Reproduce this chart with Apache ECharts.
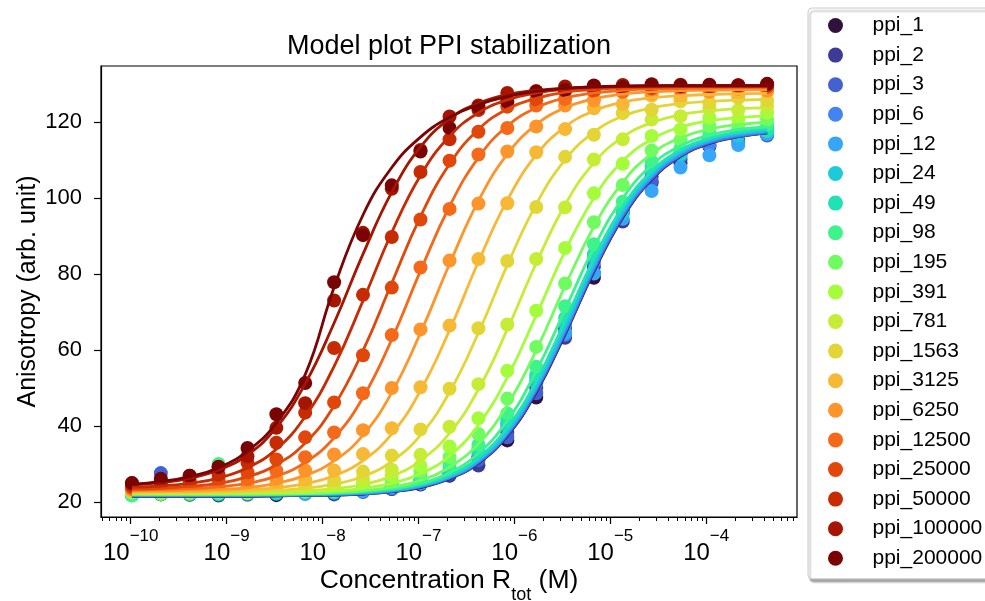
<!DOCTYPE html>
<html>
<head>
<meta charset="utf-8">
<script src="https://cdn.jsdelivr.net/npm/echarts@6/dist/echarts.min.js"></script>
<style>
  html, body { margin: 0; padding: 0; background: #fff; }
  #main { width: 985px; height: 601px; }
</style>
</head>
<body>
<div id="main"></div>
<script>
// concentrations (M), 2-fold dilution series
var conc = [1.03e-10, 2.06e-10, 4.12e-10, 8.24e-10, 1.65e-9, 3.30e-9, 6.59e-9, 1.32e-8, 2.64e-8, 5.27e-8, 1.05e-7, 2.11e-7,
  4.22e-7, 8.44e-7, 1.69e-6, 3.38e-6, 6.75e-6, 1.35e-5, 2.70e-5, 5.40e-5, 1.08e-4, 2.16e-4, 4.32e-4]

var names = ['ppi_1', 'ppi_2', 'ppi_3', 'ppi_6', 'ppi_12', 'ppi_24', 'ppi_49', 'ppi_98', 'ppi_195', 'ppi_391', 'ppi_781',
  'ppi_1563', 'ppi_3125', 'ppi_6250', 'ppi_12500', 'ppi_25000', 'ppi_50000', 'ppi_100000', 'ppi_200000']

var colors = ['#30123b', '#3e3a97', '#4461d2', '#4284f2', '#36a7f8', '#1ccbd8', '#21e2b5', '#3ff38c', '#70fc61', '#a4fc3b',
  '#c7ec35', '#e4d537', '#f7b836', '#fd952a', '#f4691a', '#e1460b', '#c72b04', '#a51501', '#7a0403']

// tick labels
var xMajor = [-10, -9, -8, -7, -6, -5, -4] // exponents of 10
var yTicks = [20, 40, 60, 80, 100, 120]

// measured points (anisotropy)
var pts_1 = [22.3, 22.0, 21.9, 22.6, 22.2, 21.8, 22.5, 22.9, 23.1, 23.4, 24.6, 27.0, 31.5, 36.2, 47.5, 65.8, 79.0, 96.1, 104.0, 109.2, 113.5, 116.8, 116.6]
var pts_2 = [21.8, 22.4, 22.2, 21.7, 22.9, 22.1, 22.3, 22.0, 23.0, 24.1, 25.2, 26.9, 29.6, 38.4, 50.1, 63.2, 81.9, 93.8, 105.6, 110.1, 115.2, 115.5, 117.9]
var pts_3 = [22.1, 27.6, 22.5, 22.3, 21.9, 22.7, 22.2, 23.0, 22.6, 23.5, 24.7, 27.5, 31.0, 37.0, 48.6, 66.0, 80.2, 96.3, 104.3, 111.8, 113.8, 116.9, 116.4]
var pts_6 = [22.4, 22.1, 22.8, 22.0, 22.5, 22.3, 22.6, 22.4, 23.3, 24.0, 25.4, 28.0, 32.1, 39.5, 51.2, 64.0, 83.0, 96.8, 106.6, 111.0, 114.0, 114.6, 117.0]
var pts_12 = [21.9, 22.6, 22.1, 22.4, 22.2, 22.6, 22.1, 22.8, 22.9, 23.8, 24.9, 27.9, 33.0, 40.2, 51.5, 64.6, 80.1, 94.5, 101.8, 108.0, 111.2, 113.9, 116.8]
var pts_24 = [22.6, 22.3, 22.0, 22.7, 22.4, 22.2, 22.9, 22.5, 23.6, 24.4, 26.0, 28.5, 33.4, 40.9, 52.7, 66.9, 84.5, 96.0, 107.2, 111.4, 116.1, 116.4, 118.3]
var pts_49 = [22.2, 22.7, 22.4, 22.1, 22.9, 22.5, 22.8, 23.1, 23.8, 24.5, 26.4, 29.3, 33.9, 41.8, 53.5, 68.4, 85.2, 97.0, 108.3, 112.0, 116.3, 117.9, 117.6]
var pts_98 = [21.7, 22.5, 22.2, 30.0, 22.6, 22.9, 23.1, 22.8, 24.2, 25.0, 26.9, 30.2, 35.1, 43.3, 55.6, 71.5, 87.8, 99.0, 109.6, 113.0, 117.2, 117.5, 119.3]
var pts_195 = [22.5, 22.1, 22.8, 22.4, 22.3, 23.0, 22.7, 23.4, 24.5, 25.6, 28.1, 31.8, 37.9, 47.2, 60.8, 77.5, 93.6, 103.4, 112.5, 115.2, 118.9, 119.0, 120.6]
var pts_391 = [22.9, 22.4, 22.6, 23.0, 22.5, 23.2, 23.4, 24.1, 25.2, 27.0, 29.5, 34.6, 42.0, 54.5, 70.3, 86.8, 101.2, 109.0, 116.3, 118.0, 121.1, 120.7, 122.4]
var pts_781 = [22.6, 22.9, 22.4, 22.8, 23.1, 23.4, 23.8, 24.6, 26.2, 28.5, 32.4, 39.8, 51.0, 66.7, 83.9, 97.5, 110.1, 115.4, 120.6, 121.5, 123.6, 123.1, 124.2]
var pts_1563 = [23.0, 22.7, 23.1, 22.9, 23.5, 23.9, 24.6, 25.8, 28.0, 32.2, 39.1, 49.8, 65.7, 83.4, 97.6, 110.8, 116.6, 122.3, 123.2, 125.4, 125.0, 126.3, 125.6]
var pts_3125 = [22.9, 23.2, 22.8, 23.4, 23.9, 24.5, 25.9, 28.3, 32.6, 39.4, 50.2, 66.4, 83.9, 98.6, 112.0, 118.1, 123.6, 124.7, 126.9, 126.5, 127.8, 127.0, 127.9]
var pts_6250 = [23.3, 23.0, 23.6, 24.0, 24.6, 26.1, 28.3, 32.5, 38.9, 50.0, 65.4, 83.5, 98.5, 112.2, 118.8, 124.3, 125.7, 127.9, 127.6, 128.7, 128.0, 128.8, 128.3]
var pts_12500 = [23.6, 23.9, 24.1, 24.7, 26.0, 28.2, 31.8, 38.3, 48.6, 63.9, 81.7, 97.1, 111.4, 118.4, 124.3, 126.0, 128.1, 127.9, 129.2, 128.5, 129.3, 128.8, 129.4]
var pts_25000 = [23.9, 24.3, 24.8, 25.9, 27.8, 31.2, 37.0, 46.2, 58.6, 76.4, 94.3, 109.8, 117.4, 124.0, 125.8, 128.3, 128.1, 129.4, 128.8, 129.6, 129.0, 129.7, 129.2]
var pts_50000 = [24.3, 24.8, 25.6, 27.2, 30.3, 35.6, 43.5, 60.5, 74.5, 89.7, 106.8, 115.4, 123.1, 125.3, 128.1, 128.2, 129.4, 129.1, 129.8, 129.3, 129.7, 129.4, 129.9]
var pts_100000 = [24.9, 25.6, 26.9, 29.3, 32.0, 39.5, 46.0, 73.0, 90.8, 102.4, 112.6, 121.4, 124.3, 127.6, 128.0, 129.3, 129.0, 129.7, 129.2, 129.8, 129.4, 129.6, 129.8]
var pts_200000 = [25.0, 26.1, 26.9, 29.2, 34.2, 43.1, 51.3, 77.8, 90.2, 103.3, 112.2, 118.4, 123.8, 125.3, 127.9, 128.4, 129.6, 129.2, 129.9, 129.5, 129.8, 129.6, 130.0]

// model curves, read at the same concentrations
var fit_1 = [21.5, 21.5, 21.5, 21.5, 21.5, 21.6, 21.7, 21.8, 22.1, 22.7, 23.8, 26.1, 30.2, 37.4, 48.8, 64.1, 80.6, 94.8, 104.8, 110.9, 114.3, 116.1, 117.1]
var fit_2 = [21.5, 21.5, 21.5, 21.5, 21.5, 21.6, 21.7, 21.8, 22.1, 22.7, 23.9, 26.2, 30.3, 37.5, 49.0, 64.3, 80.8, 95.0, 104.9, 111.0, 114.4, 116.1, 117.1]
var fit_3 = [21.6, 21.6, 21.6, 21.6, 21.6, 21.7, 21.8, 21.9, 22.2, 22.8, 24.0, 26.3, 30.4, 37.7, 49.3, 64.6, 81.1, 95.2, 105.1, 111.1, 114.5, 116.2, 117.2]
var fit_6 = [21.7, 21.7, 21.7, 21.7, 21.7, 21.8, 21.9, 22.0, 22.3, 22.9, 24.1, 26.4, 30.6, 38.0, 49.7, 65.0, 81.5, 95.6, 105.4, 111.3, 114.7, 116.4, 117.4]
var fit_12 = [21.8, 21.8, 21.8, 21.8, 21.8, 21.9, 22.0, 22.1, 22.4, 23.0, 24.2, 26.6, 30.9, 38.4, 50.2, 65.6, 82.0, 96.1, 105.8, 111.7, 115.0, 116.7, 117.6]
var fit_24 = [21.9, 21.9, 21.9, 21.9, 21.9, 22.0, 22.1, 22.2, 22.5, 23.2, 24.4, 26.8, 31.2, 38.8, 50.7, 66.3, 82.8, 96.7, 106.3, 112.1, 115.3, 117.0, 117.8]
var fit_49 = [22.0, 22.0, 22.0, 22.0, 22.0, 22.1, 22.2, 22.3, 22.7, 23.3, 24.6, 27.1, 31.7, 39.6, 51.8, 67.6, 84.0, 97.7, 107.0, 112.6, 115.7, 117.3, 118.2]
var fit_98 = [22.0, 22.0, 22.0, 22.0, 22.0, 22.1, 22.2, 22.4, 22.8, 23.5, 24.9, 27.7, 32.8, 41.4, 54.4, 70.6, 86.9, 99.9, 108.6, 113.7, 116.5, 118.0, 118.7]
var fit_195 = [22.0, 22.0, 22.0, 22.0, 22.1, 22.1, 22.2, 22.5, 23.0, 23.9, 25.7, 29.2, 35.3, 45.5, 59.9, 76.8, 92.4, 104.1, 111.6, 115.8, 118.1, 119.3, 119.9]
var fit_391 = [22.2, 22.2, 22.2, 22.2, 22.3, 22.4, 22.5, 22.9, 23.6, 24.9, 27.4, 32.1, 40.3, 52.8, 69.1, 86.0, 100.0, 109.7, 115.4, 118.6, 120.3, 121.1, 121.6]
var fit_781 = [22.3, 22.3, 22.3, 22.4, 22.5, 22.6, 22.9, 23.5, 24.6, 26.8, 30.9, 38.1, 49.6, 65.4, 82.8, 98.2, 109.2, 116.0, 119.8, 121.9, 122.9, 123.5, 123.7]
var fit_1563 = [22.5, 22.5, 22.6, 22.6, 22.8, 23.1, 23.6, 24.7, 26.7, 30.7, 37.6, 48.9, 64.5, 82.3, 98.3, 110.0, 117.3, 121.5, 123.7, 124.8, 125.4, 125.7, 125.9]
var fit_3125 = [22.6, 22.7, 22.7, 22.9, 23.2, 23.7, 24.8, 26.9, 30.9, 37.9, 49.3, 65.2, 83.2, 99.4, 111.3, 118.7, 122.9, 125.2, 126.3, 126.9, 127.2, 127.4, 127.5]
var fit_6250 = [22.9, 22.9, 23.1, 23.3, 23.8, 24.9, 27.0, 30.8, 37.6, 48.8, 64.5, 82.6, 99.2, 111.5, 119.3, 123.7, 126.1, 127.3, 127.9, 128.2, 128.3, 128.4, 128.5]
var fit_12500 = [23.1, 23.3, 23.5, 24.0, 24.9, 26.8, 30.4, 36.9, 47.5, 62.8, 80.8, 97.8, 110.6, 118.9, 123.7, 126.3, 127.6, 128.3, 128.7, 128.8, 128.9, 129.0, 129.0]
var fit_25000 = [23.4, 23.6, 24.1, 24.9, 26.6, 29.8, 35.5, 45.3, 59.8, 77.6, 95.1, 108.9, 118.0, 123.4, 126.2, 127.8, 128.5, 128.9, 129.1, 129.2, 129.3, 129.3, 129.3]
var fit_50000 = [23.9, 24.2, 24.9, 26.3, 29.0, 33.9, 42.5, 55.7, 72.9, 90.9, 105.9, 116.2, 122.4, 125.8, 127.6, 128.6, 129.0, 129.3, 129.4, 129.5, 129.5, 129.5, 129.5]
var fit_100000 = [24.6, 25.1, 26.2, 28.4, 32.4, 39.6, 51.1, 67.1, 85.2, 101.5, 113.4, 120.8, 124.9, 127.2, 128.3, 128.9, 129.2, 129.4, 129.4, 129.5, 129.5, 129.5, 129.5]
var fit_200000 = [24.6, 25.4, 26.7, 29.0, 33.4, 40.8, 53.5, 76.5, 95.5, 108.0, 116.0, 121.2, 124.5, 126.7, 128.0, 128.8, 129.2, 129.4, 129.5, 129.5, 129.5, 129.5, 129.5]

var pts = [pts_1, pts_2, pts_3, pts_6, pts_12, pts_24, pts_49, pts_98, pts_195, pts_391, pts_781,
  pts_1563, pts_3125, pts_6250, pts_12500, pts_25000, pts_50000, pts_100000, pts_200000]
var fits = [fit_1, fit_2, fit_3, fit_6, fit_12, fit_24, fit_49, fit_98, fit_195, fit_391, fit_781,
  fit_1563, fit_3125, fit_6250, fit_12500, fit_25000, fit_50000, fit_100000, fit_200000]

var FONT = '"Liberation Sans", Arial, sans-serif'
var X_MIN = -10.31
var X_MAX = -3.053

// minor ticks of the log axis (2..9 x 10^n)
var xMinor = []
for (var n = -11; n <= -4; n++) {
  for (var m = 2; m <= 9; m++) {
    var e = n + Math.log10(m)
    if (e > X_MIN && e < X_MAX) xMinor.push(e)
  }
}

var series = []
// scatter first, lines on top (matplotlib zorder)
for (var i = 0; i < names.length; i++) {
  series.push({
    name: names[i],
    type: 'scatter',
    symbolSize: 14,
    z: 2,
    itemStyle: { color: colors[i], opacity: 1 },
    data: conc.map(function (c, k) { return [Math.log10(c), pts[i][k]] }),
  })
}
for (var j = 0; j < names.length; j++) {
  series.push({
    name: names[j],
    type: 'line',
    smooth: 0.45,
    showSymbol: false,
    z: 3,
    lineStyle: { color: colors[j], width: 2.8 },
    itemStyle: { color: colors[j] },
    data: conc.map(function (c, k) { return [Math.log10(c), fits[j][k]] }),
  })
}

var chart = echarts.init(document.getElementById('main'))
var option = {
  animation: false,
  backgroundColor: '#fff',
  title: {
    text: 'Model plot PPI stabilization',
    left: 449,
    top: 33,
    padding: 0,
    textAlign: 'center',
    textStyle: { fontSize: 27, fontWeight: 'normal', color: '#000', fontFamily: FONT },
  },
  legend: {
    orient: 'vertical',
    left: 808,
    top: 8,
    padding: [7, 30, 10, 20],
    itemGap: 8.6,
    itemWidth: 30,
    itemHeight: 15,
    icon: 'circle',
    selectedMode: false,
    backgroundColor: '#fff',
    borderColor: '#cccccc',
    borderWidth: 1,
    borderRadius: 4,
    shadowColor: 'rgba(0,0,0,0.35)',
    shadowBlur: 2,
    shadowOffsetX: 2,
    shadowOffsetY: 3,
    textStyle: { fontSize: 21, lineHeight: 21, color: '#000', fontFamily: FONT, padding: [0, 0, 0, 17] },
    data: names,
  },
  grid: {
    left: 101,
    right: 188,
    top: 66,
    bottom: 84,
    show: true,
    borderColor: '#000',
    borderWidth: 1.2,
    outerBoundsMode: 'none',
  },
  xAxis: [
    {
      type: 'value',
      min: X_MIN,
      max: X_MAX,
      position: 'bottom',
      axisLine: { show: true, lineStyle: { color: '#000', width: 1.2 } },
      splitLine: { show: false },
      axisTick: { customValues: xMajor, length: 7, lineStyle: { color: '#000', width: 1.2 } },
      axisLabel: {
        customValues: xMajor,
        margin: 11,
        formatter: function (v) {
          return '{b|10}{s|\u2212' + Math.abs(Math.round(v)) + '}'
        },
        rich: {
          b: { fontSize: 24, lineHeight: 37, verticalAlign: 'bottom', color: '#000', fontFamily: FONT },
          s: { fontSize: 17, lineHeight: 18, verticalAlign: 'top', color: '#000', fontFamily: FONT },
        },
      },
      name: '{a|Concentration R}{s|tot}{a| (M)}',
      nameLocation: 'middle',
      nameGap: 50,
      nameMoveOverlap: false,
      nameTextStyle: {
        rich: {
          a: { fontSize: 26.5, lineHeight: 28, verticalAlign: 'top', color: '#000', fontFamily: FONT },
          s: { fontSize: 18, lineHeight: 37, verticalAlign: 'bottom', color: '#000', fontFamily: FONT },
        },
      },
    },
    {
      type: 'value',
      min: X_MIN,
      max: X_MAX,
      position: 'bottom',
      axisLine: { show: false },
      splitLine: { show: false },
      axisLabel: { show: false },
      axisTick: { customValues: xMinor, length: 4, lineStyle: { color: '#000', width: 1 } },
    },
  ],
  yAxis: {
    type: 'value',
    min: 16.05,
    max: 134.7,
    axisLine: { show: true, lineStyle: { color: '#000', width: 1.2 } },
    splitLine: { show: false },
    axisTick: { customValues: yTicks, length: 7, lineStyle: { color: '#000', width: 1.2 } },
    axisLabel: { customValues: yTicks, margin: 19, fontSize: 22, color: '#000', fontFamily: FONT },
    name: 'Anisotropy (arb. unit)',
    nameLocation: 'middle',
    nameGap: 60,
    nameMoveOverlap: false,
    nameTextStyle: { fontSize: 25, color: '#000', fontFamily: FONT },
  },
  series: series,
}
chart.setOption(option)
</script>
</body>
</html>
